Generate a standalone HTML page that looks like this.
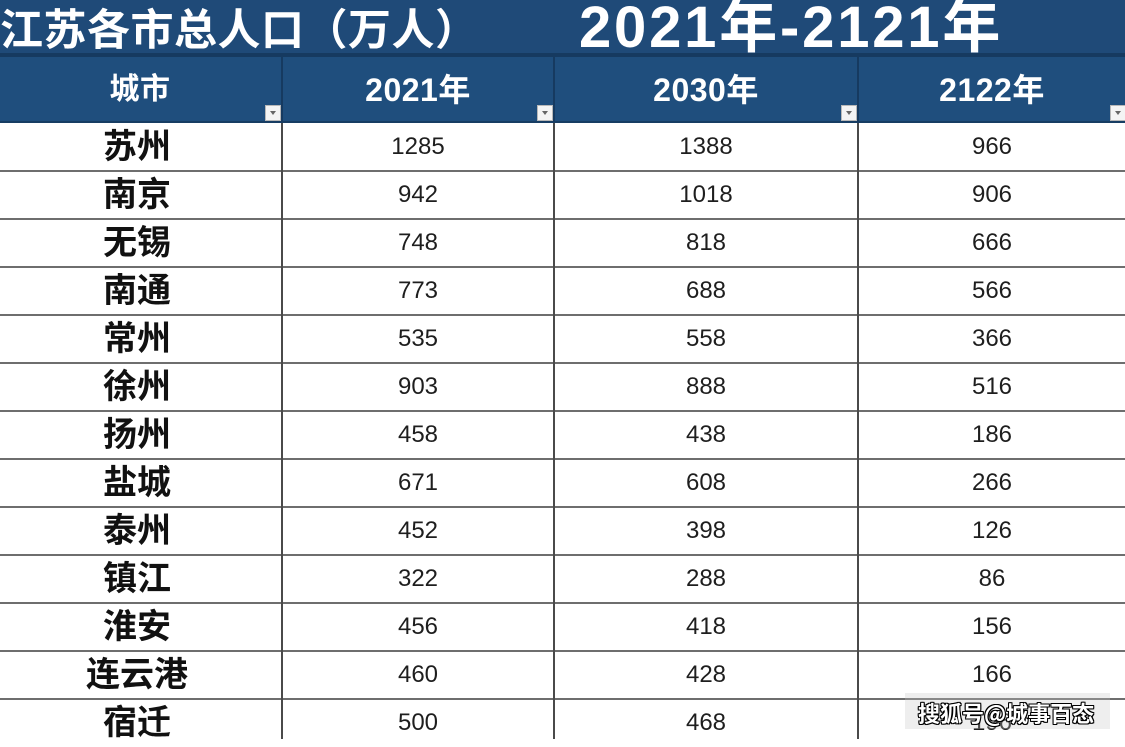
<!DOCTYPE html>
<html>
<head>
<meta charset="utf-8">
<style>
  html, body { margin:0; padding:0; }
  body { width:1125px; height:739px; overflow:hidden; background:#fff; position:relative;
         font-family:"Liberation Sans","Noto Sans CJK SC",sans-serif; }
  .abs { position:absolute; }
  .band { left:0; top:0; width:1125px; height:54px; background:#1f4a78; }
  .bandline { left:0; top:53px; width:1125px; height:4px; background:#163a60; }
  .hdr { left:0; top:57px; width:1125px; height:65px; background:#1f4e7d; }
  .hdrline { left:0; top:121px; width:1125px; height:2px; background:#173d63; }
  .t1 { left:0; top:-3px; font-family:"Noto Sans CJK SC",sans-serif; font-weight:700; font-size:43px; line-height:60px; color:#fff; letter-spacing:0.5px; white-space:nowrap; }
  .t2 { left:579px; top:-5px; font-family:"Liberation Sans","Noto Sans CJK SC",sans-serif; font-weight:700; font-size:58px; line-height:66px; color:#fff; white-space:nowrap; letter-spacing:2.8px; }
  .hcell { top:58px; height:64px; line-height:64px; text-align:center; color:#fff; font-weight:700;
           font-family:"Liberation Sans","Noto Sans CJK SC",sans-serif; font-size:32px; letter-spacing:0.5px; }
  .vsepH { top:57px; width:2px; height:65px; background:#163a60; }
  .icon { width:14px; height:14px; background:#f4f4f4; border:1px solid #b8b8b8; top:105px; }
  .icon:after { content:""; position:absolute; left:4px; top:5px; border-left:3px solid transparent; border-right:3px solid transparent; border-top:4px solid #666; }
  .row { left:0; width:1125px; height:48px; }
  .hl { left:0; width:1125px; height:2px; background:#6e6e6e; }
  .vl { top:123px; width:2px; height:616px; background:#4a4a4a; }
  .city { position:absolute; left:0; width:274px; top:-3px; height:48px; line-height:48px; text-align:center;
          font-family:"Noto Sans CJK SC",sans-serif; font-weight:700; font-size:34px; color:#111; }
  .num { position:absolute; top:0; height:48px; line-height:48px; text-align:center; font-size:24px; color:#1e1e1e;
         font-family:"Liberation Sans",sans-serif; }
  .c2 { left:283px; width:270px; }
  .c3 { left:555px; width:302px; }
  .c4 { left:859px; width:266px; }
  .wmbox { left:905px; top:693px; width:205px; height:36px; background:rgba(200,200,200,0.3); }
  .wm { left:918px; top:698px; font-family:"Noto Sans CJK SC",sans-serif; font-weight:700; font-size:22px; line-height:30px; color:#fff; white-space:nowrap;
        text-shadow: -1px -1px 0 #000, 1px -1px 0 #000, -1px 1px 0 #000, 1px 1px 0 #000, 0 1px 0 #000, 0 -1px 0 #000, 1px 0 0 #000, -1px 0 0 #000; }
</style>
</head>
<body>
  <div class="abs band"></div>
  <div class="abs t1">江苏各市总人口（万人）</div>
  <div class="abs t2">2021年-2121年</div>
  <div class="abs bandline"></div>
  <div class="abs hdr"></div>
  <div class="abs hdrline"></div>

  <div class="abs hcell" style="left:0;width:280px;font-size:30px;">城市</div>
  <div class="abs hcell" style="left:283px;width:270px;">2021年</div>
  <div class="abs hcell" style="left:555px;width:302px;">2030年</div>
  <div class="abs hcell" style="left:859px;width:266px;">2122年</div>

  <div class="abs vsepH" style="left:281px;"></div>
  <div class="abs vsepH" style="left:553px;"></div>
  <div class="abs vsepH" style="left:857px;"></div>

  <div class="abs icon" style="left:265px;"></div>
  <div class="abs icon" style="left:537px;"></div>
  <div class="abs icon" style="left:841px;"></div>
  <div class="abs icon" style="left:1110px;"></div>

  <!-- rows -->
  <div class="abs row" style="top:123px;"><div class="city">苏州</div><div class="num c2">1285</div><div class="num c3">1388</div><div class="num c4">966</div></div>
  <div class="abs row" style="top:171px;"><div class="city">南京</div><div class="num c2">942</div><div class="num c3">1018</div><div class="num c4">906</div></div>
  <div class="abs row" style="top:219px;"><div class="city">无锡</div><div class="num c2">748</div><div class="num c3">818</div><div class="num c4">666</div></div>
  <div class="abs row" style="top:267px;"><div class="city">南通</div><div class="num c2">773</div><div class="num c3">688</div><div class="num c4">566</div></div>
  <div class="abs row" style="top:315px;"><div class="city">常州</div><div class="num c2">535</div><div class="num c3">558</div><div class="num c4">366</div></div>
  <div class="abs row" style="top:363px;"><div class="city">徐州</div><div class="num c2">903</div><div class="num c3">888</div><div class="num c4">516</div></div>
  <div class="abs row" style="top:411px;"><div class="city">扬州</div><div class="num c2">458</div><div class="num c3">438</div><div class="num c4">186</div></div>
  <div class="abs row" style="top:459px;"><div class="city">盐城</div><div class="num c2">671</div><div class="num c3">608</div><div class="num c4">266</div></div>
  <div class="abs row" style="top:507px;"><div class="city">泰州</div><div class="num c2">452</div><div class="num c3">398</div><div class="num c4">126</div></div>
  <div class="abs row" style="top:555px;"><div class="city">镇江</div><div class="num c2">322</div><div class="num c3">288</div><div class="num c4">86</div></div>
  <div class="abs row" style="top:603px;"><div class="city">淮安</div><div class="num c2">456</div><div class="num c3">418</div><div class="num c4">156</div></div>
  <div class="abs row" style="top:651px;"><div class="city">连云港</div><div class="num c2">460</div><div class="num c3">428</div><div class="num c4">166</div></div>
  <div class="abs row" style="top:699px;"><div class="city">宿迁</div><div class="num c2">500</div><div class="num c3">468</div><div class="num c4">196</div></div>

  <!-- horizontal grid lines -->
  <div class="abs hl" style="top:170px;"></div>
  <div class="abs hl" style="top:218px;"></div>
  <div class="abs hl" style="top:266px;"></div>
  <div class="abs hl" style="top:314px;"></div>
  <div class="abs hl" style="top:362px;"></div>
  <div class="abs hl" style="top:410px;"></div>
  <div class="abs hl" style="top:458px;"></div>
  <div class="abs hl" style="top:506px;"></div>
  <div class="abs hl" style="top:554px;"></div>
  <div class="abs hl" style="top:602px;"></div>
  <div class="abs hl" style="top:650px;"></div>
  <div class="abs hl" style="top:698px;"></div>

  <!-- vertical grid lines -->
  <div class="abs vl" style="left:281px;"></div>
  <div class="abs vl" style="left:553px;"></div>
  <div class="abs vl" style="left:857px;"></div>

  <!-- watermark -->
  <div class="abs wmbox"></div>
  <div class="abs wm">搜狐号@城事百态</div>
</body>
</html>
